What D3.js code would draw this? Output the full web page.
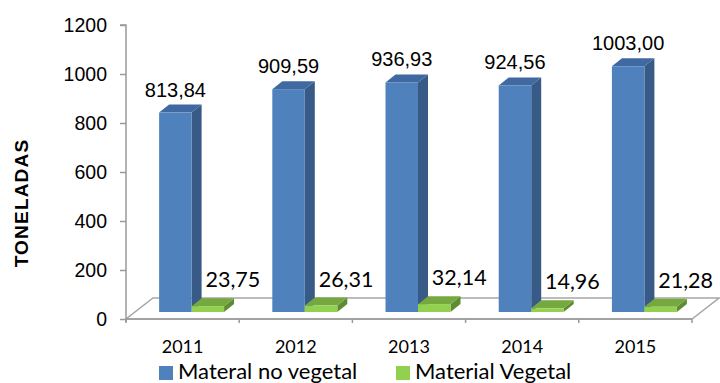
<!DOCTYPE html>
<html><head><meta charset="utf-8">
<script src="https://cdn.jsdelivr.net/npm/d3@7"></script>
<style>body{margin:0;background:#fff;overflow:hidden}</style>
</head><body><svg id="chart" width="720" height="383"></svg>
<script>
// Toneladas por año: material no vegetal vs. material vegetal
const years = ["2011", "2012", "2013", "2014", "2015"];
const noVegetal = [813.84, 909.59, 936.93, 924.56, 1003.00];
const vegetal = [23.75, 26.31, 32.14, 14.96, 21.28];
const yTicks = [0, 200, 400, 600, 800, 1000, 1200];
const seriesNames = ["Materal no vegetal", "Material Vegetal"];
const axisTitle = "TONELADAS";

const fmt = v => d3.format(".2f")(v).replace(".", ",");

const svg = d3.select("#chart");

const x = d3.scaleBand().domain(years).range([126, 692]).padding(0);
const y = d3.scaleLinear().domain([0, 1200]).range([319, 25]);
const barW = x.bandwidth() * 0.287;
const xs = d3.scaleBand().domain([0, 1]).range([-barW, barW]).padding(0);

// 3-D offsets: floor depth, plane on which bars stand, and bar thickness
const floor = { dx: 27, dy: -21 };
const plane = { dx: 9, dy: -7 };
const depth = { dx: 10, dy: -8 };

const series = [
  { name: seriesNames[0], values: noVegetal, front: "#4F81BD", top: "#3F69A0", side: "#375A87", font: "'Liberation Sans', Arial, sans-serif", size: 20, gap: 16, shift: 0 },
  { name: seriesNames[1], values: vegetal, front: "#92D050", top: "#75A83E", side: "#5F8C32", font: "Lato, 'Open Sans', sans-serif", size: 21.5, gap: 19, shift: 25 }
];

// floor
const [fx0, fx1] = x.range();
const fy = y(0);
svg.append("polygon")
  .attr("points", [[fx0, fy], [fx1, fy], [fx1 + floor.dx, fy + floor.dy], [fx0 + floor.dx, fy + floor.dy]].map(p => p.join(",")).join(" "))
  .attr("fill", "#fff").attr("stroke", "#a6a6a6").attr("stroke-width", 1.5);

// category edge ticks
const edges = years.map(d => x(d)).concat([fx1]);
svg.append("g").selectAll("line").data(edges).join("line")
  .attr("x1", d => d).attr("x2", d => d)
  .attr("y1", fy).attr("y2", fy + 4)
  .attr("stroke", "#9a9a9a").attr("stroke-width", 1.5);
svg.append("line").attr("x1", fx0).attr("x2", fx1).attr("y1", fy).attr("y2", fy)
  .attr("stroke", "#9a9a9a").attr("stroke-width", 1.5);

// y axis
const yAxis = svg.append("g").attr("transform", `translate(${fx0},0)`)
  .call(d3.axisLeft(y).tickValues(yTicks).tickSize(6).tickPadding(13).tickFormat(d3.format("d")));
yAxis.select(".domain").attr("stroke", "#9a9a9a").attr("stroke-width", 1.5).attr("d", `M-6,${y(1200)}H0V${fy + 3}`);
yAxis.selectAll(".tick line").attr("stroke", "#9a9a9a").attr("stroke-width", 1.5);
yAxis.selectAll(".tick text").attr("font-family", "'Liberation Sans', Arial, sans-serif").attr("font-size", 19.5).attr("fill", "#000");

// bars
const pts = a => a.map(p => p.join(",")).join(" ");
series.forEach((s, si) => {
  const g = svg.append("g");
  years.forEach((yr, i) => {
    const v = s.values[i];
    const x0 = x(yr) + x.bandwidth() / 2 + xs(si) + plane.dx;
    const x1 = x0 + barW;
    const top = y(v) + plane.dy;
    const bot = y(0) + plane.dy;
    g.append("polygon").attr("fill", s.side)
      .attr("points", pts([[x1, top], [x1 + depth.dx, top + depth.dy], [x1 + depth.dx, bot + depth.dy], [x1, bot]]));
    g.append("polygon").attr("fill", s.top)
      .attr("points", pts([[x0, top], [x0 + depth.dx, top + depth.dy], [x1 + depth.dx, top + depth.dy], [x1, top]]));
    g.append("rect").attr("fill", s.front)
      .attr("x", x0).attr("y", top).attr("width", barW).attr("height", bot - top);
  });
});

// value labels
series.forEach((s, si) => {
  svg.append("g").selectAll("text").data(s.values).join("text")
    .attr("x", (v, i) => x(years[i]) + x.bandwidth() / 2 + xs(si) + plane.dx + barW / 2 + s.shift)
    .attr("y", v => y(v) + plane.dy - s.gap)
    .attr("text-anchor", "middle")
    .attr("font-family", s.font).attr("font-size", s.size).attr("fill", "#000")
    .text(fmt);
});

// year labels
svg.append("g").selectAll("text").data(years).join("text")
  .attr("x", d => x(d) + x.bandwidth() / 2).attr("y", 353)
  .attr("text-anchor", "middle")
  .attr("font-family", "Lato, 'Open Sans', sans-serif").attr("font-size", 18).attr("fill", "#000")
  .text(d => d);

// axis title
svg.append("text")
  .attr("transform", "translate(28,203) rotate(-90)")
  .attr("text-anchor", "middle")
  .attr("font-family", "'Liberation Sans', Arial, sans-serif").attr("font-weight", "bold")
  .attr("font-size", 19).attr("letter-spacing", 1.2).attr("fill", "#000")
  .text(axisTitle);

// legend
const legendX = [159, 396];
series.forEach((s, si) => {
  svg.append("rect").attr("x", legendX[si]).attr("y", 366).attr("width", 14).attr("height", 14).attr("fill", s.front);
  svg.append("text").attr("x", legendX[si] + 19).attr("y", 378.5)
    .attr("font-family", "Lato, 'Open Sans', sans-serif").attr("font-size", 22).attr("fill", "#000")
    .text(s.name);
});
</script>
</body></html>
